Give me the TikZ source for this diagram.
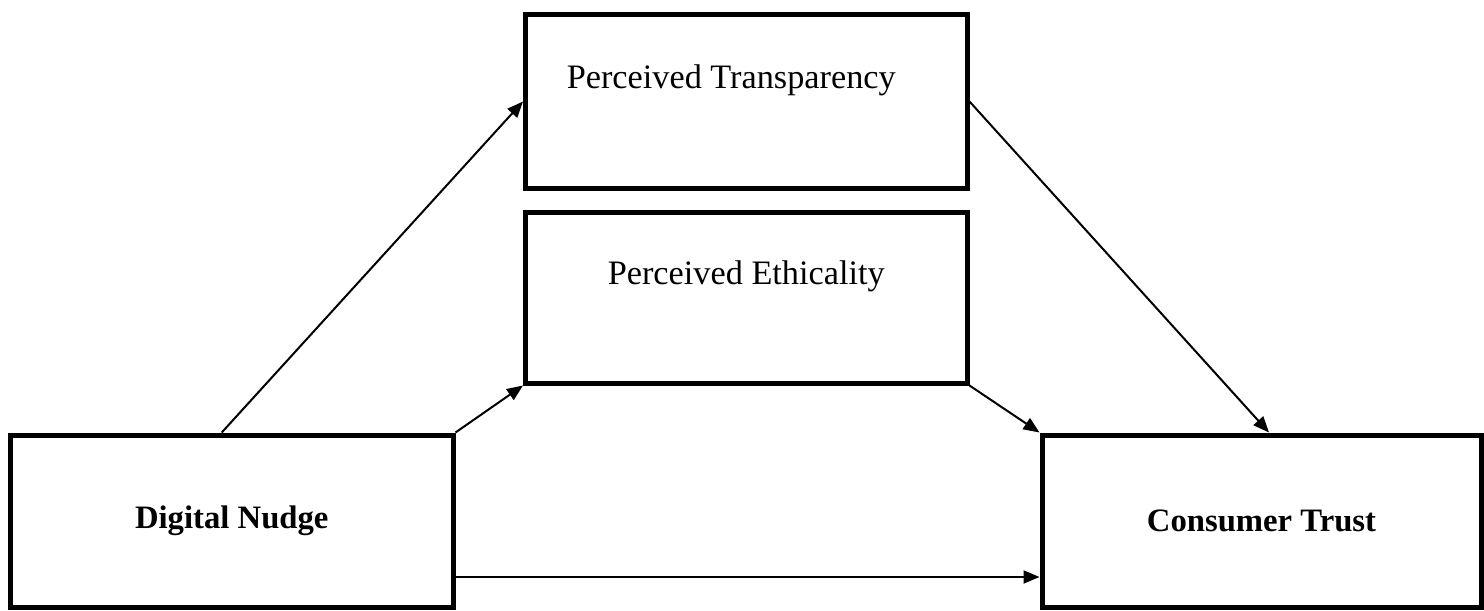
\documentclass[tikz,border=0pt]{standalone}
\usepackage{fontspec}
\setmainfont{Liberation Serif}
\usetikzlibrary{calc,positioning,arrows.meta}

\tikzset{
  box/.style={draw, line width=0.1cm, rectangle, inner sep=0pt},
  boxtext/.style={font=\fontsize{19.5}{23}\selectfont},
  boldtext/.style={font=\fontsize{18.6}{22}\selectfont\bfseries},
  link/.style={line width=0.04cm, -{Triangle[length=0.32cm,width=0.26cm]}}
}

\begin{document}
\begin{tikzpicture}
  \useasboundingbox (0,0) rectangle (29.68,12.2);

  \node [box, minimum width=8.83cm, minimum height=3.46cm] (pt) at (14.925,10.17) {};
  \node [boxtext] (ptlabel) at ([xshift=-0.3cm,yshift=0.42cm]pt.center) {Perceived Transparency};

  \node [box, minimum width=8.83cm, minimum height=3.42cm] (pe) at (14.925,6.25) {};
  \node [boxtext] (pelabel) at ([yshift=0.43cm]pe.center) {Perceived Ethicality};

  %%

  \node [box, minimum width=8.85cm, minimum height=3.44cm, boldtext] (dn) at (4.635,1.78) {Digital Nudge};

  \node [box, minimum width=8.78cm, minimum height=3.44cm, boldtext] (ct) at (25.23,1.78) {Consumer Trust};

  %%

  \draw[link] ([xshift=-0.2cm]dn.north) to (pt.west);
  \draw[link] (dn.north east) to (pe.south west);
  \draw[link] ([yshift=-1.12cm]dn.east) to ([yshift=-1.12cm]ct.west);
  \draw[link] (pe.south east) to (ct.north west);
  \draw[link] (pt.east) to ([xshift=0.15cm]ct.north);

\end{tikzpicture}
\end{document}
